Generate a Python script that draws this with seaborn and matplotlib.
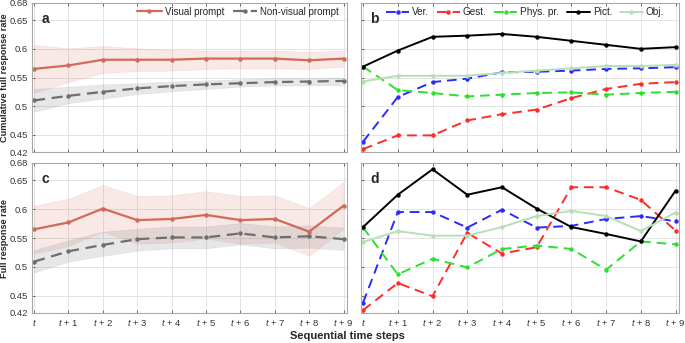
import numpy as np
import pandas as pd
import seaborn as sns
import matplotlib
matplotlib.use("Agg")
import matplotlib.pyplot as plt

# Time steps and their tick labels
steps = list(range(10))
step_labels = ["$t$"] + [f"$t$ + {i}" for i in range(1, 10)]

# Panel a: cumulative full response rate, visual vs non-visual prompt
cum_visual = [0.565, 0.571, 0.581, 0.581, 0.581, 0.583, 0.583, 0.583, 0.580, 0.583]
cum_visual_lo = [0.523, 0.542, 0.558, 0.561, 0.562, 0.565, 0.566, 0.566, 0.565, 0.569]
cum_visual_hi = [0.607, 0.601, 0.605, 0.601, 0.598, 0.597, 0.597, 0.597, 0.595, 0.597]
cum_nonvis = [0.510, 0.518, 0.525, 0.531, 0.535, 0.538, 0.540, 0.542, 0.543, 0.544]
cum_nonvis_lo = [0.490, 0.505, 0.513, 0.521, 0.526, 0.530, 0.534, 0.536, 0.536, 0.537]
cum_nonvis_hi = [0.530, 0.534, 0.538, 0.540, 0.543, 0.545, 0.547, 0.549, 0.549, 0.550]

# Panel c: full response rate per time step
fr_visual = [0.565, 0.577, 0.601, 0.581, 0.583, 0.590, 0.581, 0.583, 0.561, 0.606]
fr_visual_lo = [0.523, 0.536, 0.561, 0.540, 0.542, 0.549, 0.540, 0.542, 0.519, 0.566]
fr_visual_hi = [0.606, 0.618, 0.642, 0.623, 0.624, 0.631, 0.623, 0.624, 0.602, 0.647]
fr_nonvis = [0.509, 0.527, 0.538, 0.548, 0.551, 0.551, 0.558, 0.551, 0.553, 0.548]
fr_nonvis_lo = [0.490, 0.509, 0.519, 0.528, 0.532, 0.532, 0.539, 0.532, 0.533, 0.529]
fr_nonvis_hi = [0.529, 0.546, 0.561, 0.566, 0.570, 0.570, 0.576, 0.570, 0.572, 0.568]

# Panel b: cumulative full response rate by prompt type
prompt_types = ["Ver.", "Gest.", "Phys. pr.", "Pict.", "Obj."]
cum_ver = [0.438, 0.516, 0.542, 0.548, 0.559, 0.560, 0.562, 0.565, 0.566, 0.568]
cum_gest = [0.425, 0.449, 0.449, 0.475, 0.486, 0.494, 0.514, 0.530, 0.539, 0.542]
cum_phys = [0.569, 0.528, 0.523, 0.517, 0.520, 0.523, 0.524, 0.520, 0.523, 0.525]
cum_pict = [0.569, 0.597, 0.621, 0.623, 0.626, 0.621, 0.614, 0.607, 0.600, 0.603]
cum_obj = [0.543, 0.553, 0.553, 0.553, 0.558, 0.562, 0.566, 0.570, 0.570, 0.572]

# Panel d: full response rate by prompt type
fr_ver = [0.438, 0.595, 0.595, 0.568, 0.599, 0.568, 0.571, 0.583, 0.588, 0.579]
fr_gest = [0.425, 0.472, 0.449, 0.559, 0.523, 0.534, 0.638, 0.638, 0.616, 0.563]
fr_phys = [0.568, 0.487, 0.514, 0.499, 0.531, 0.537, 0.531, 0.495, 0.544, 0.539]
fr_pict = [0.569, 0.625, 0.669, 0.625, 0.638, 0.601, 0.569, 0.557, 0.544, 0.632]
fr_obj = [0.543, 0.562, 0.554, 0.554, 0.569, 0.588, 0.597, 0.588, 0.562, 0.594]

y_ticks = [0.42, 0.45, 0.5, 0.55, 0.6, 0.65, 0.68]
y_ticklabels = ["0.42", "0.45", "0.5", "0.55", "0.6", "0.65", "0.68"]

sns.set_theme(style="white")
plt.rcParams["font.family"] = ["Liberation Sans", "DejaVu Sans"]
plt.rcParams["mathtext.fontset"] = "custom"
plt.rcParams["mathtext.it"] = "Liberation Sans:italic"
plt.rcParams["mathtext.rm"] = "Liberation Sans"

VIS_COLOR = "#d26a58"
NON_COLOR = "#6e6e6e"
type_colors = {"Ver.": "#2b2bff", "Gest.": "#ff2b2b", "Phys. pr.": "#2ee02e",
               "Pict.": "#000000", "Obj.": "#b5dfb5"}
type_dashes = {"Ver.": (5, 3), "Gest.": (5, 3), "Phys. pr.": (5, 3),
               "Pict.": "", "Obj.": ""}

fig = plt.figure(figsize=(6.85, 3.43), dpi=100)
W, H = 685, 343


def frame(l, t, r, b):
    return fig.add_axes([l / W, 1 - b / H, (r - l) / W, (b - t) / H])


ax_a = frame(32, 3, 347, 152)
ax_b = frame(361, 3, 679, 152)
ax_c = frame(32, 163, 347, 313)
ax_d = frame(361, 163, 679, 313)


def style_axes(ax, show_y, show_x):
    ax.set_xlim(-0.06, 9.1)
    ax.set_ylim(0.42, 0.68)
    ax.set_xticks(steps)
    ax.set_yticks(y_ticks)
    ax.grid(True, color="#e3e3e3", linewidth=0.7)
    ax.set_axisbelow(True)
    for s in ax.spines.values():
        s.set_color("#a8a8a8")
        s.set_linewidth(0.8)
        s.set_visible(True)
    ax.tick_params(direction="in", length=2.5, width=0.6, color="#555555",
                   top=True, right=False, left=True, bottom=True,
                   labelsize=6.8, pad=3, labelcolor="#333333")
    if show_y:
        ax.set_yticklabels(y_ticklabels)
    else:
        ax.set_yticklabels([])
    if show_x:
        ax.set_xticklabels(step_labels)
    else:
        ax.set_xticklabels([])
    ax.set_xlabel("")
    ax.set_ylabel("")


def two_group_panel(ax, vis, vis_lo, vis_hi, non, non_lo, non_hi, legend):
    ax.fill_between(steps, vis_lo, vis_hi, color=VIS_COLOR, alpha=0.15,
                    edgecolor=VIS_COLOR, linewidth=0.4)
    ax.fill_between(steps, non_lo, non_hi, color="#888888", alpha=0.2,
                    edgecolor="#999999", linewidth=0.4)
    df = pd.DataFrame({
        "step": steps * 2,
        "rate": list(vis) + list(non),
        "group": ["Visual prompt"] * 10 + ["Non-visual prompt"] * 10,
    })
    sns.lineplot(data=df, x="step", y="rate", hue="group", style="group",
                 palette={"Visual prompt": VIS_COLOR, "Non-visual prompt": NON_COLOR},
                 dashes={"Visual prompt": "", "Non-visual prompt": (5, 3)},
                 markers={"Visual prompt": "o", "Non-visual prompt": "o"},
                 markersize=3.2, markeredgewidth=0, linewidth=1.6,
                 ax=ax, legend=legend)
    if legend:
        ax.legend(loc="upper right", ncol=2, frameon=False, fontsize=7,
                  handlelength=2.5, columnspacing=0.9, handletextpad=0.3,
                  bbox_to_anchor=(0.995, 1.02), borderaxespad=0.3)


def type_panel(ax, series, legend):
    rows = []
    for name, vals in zip(prompt_types, series):
        for s, v in zip(steps, vals):
            rows.append({"step": s, "rate": v, "type": name})
    df = pd.DataFrame(rows)
    sns.lineplot(data=df, x="step", y="rate", hue="type", style="type",
                 hue_order=prompt_types, style_order=prompt_types,
                 palette=type_colors, dashes=type_dashes,
                 markers={k: "o" for k in prompt_types},
                 markersize=3.2, markeredgewidth=0, linewidth=1.4,
                 ax=ax, legend=legend)
    if legend:
        ax.legend(loc="upper right", ncol=5, frameon=False, fontsize=7.2,
                  handlelength=2.3, columnspacing=0.75, handletextpad=0.3,
                  bbox_to_anchor=(0.975, 1.02), borderaxespad=0.3)


two_group_panel(ax_a, cum_visual, cum_visual_lo, cum_visual_hi,
                cum_nonvis, cum_nonvis_lo, cum_nonvis_hi, True)
two_group_panel(ax_c, fr_visual, fr_visual_lo, fr_visual_hi,
                fr_nonvis, fr_nonvis_lo, fr_nonvis_hi, False)
type_panel(ax_b, [cum_ver, cum_gest, cum_phys, cum_pict, cum_obj], True)
type_panel(ax_d, [fr_ver, fr_gest, fr_phys, fr_pict, fr_obj], False)

style_axes(ax_a, True, False)
style_axes(ax_b, False, False)
style_axes(ax_c, True, True)
style_axes(ax_d, False, True)

for ax, letter in zip([ax_a, ax_b, ax_c, ax_d], "abcd"):
    ax.text(0.03, 0.94, letter, transform=ax.transAxes, fontsize=10,
            fontweight="bold", va="top", ha="left")

fig.text(5 / W, 1 - 78 / H, "Cumulative full response rate", rotation=90,
         fontsize=6.6, fontweight="bold", ha="center", va="center")
fig.text(5 / W, 1 - 238 / H, "Full response rate", rotation=90,
         fontsize=6.6, fontweight="bold", ha="center", va="center")
fig.text(347 / W, 1 - 336 / H, "Sequential time steps",
         fontsize=8, fontweight="bold", ha="center", va="center")

fig.savefig("out.png", dpi=100)
